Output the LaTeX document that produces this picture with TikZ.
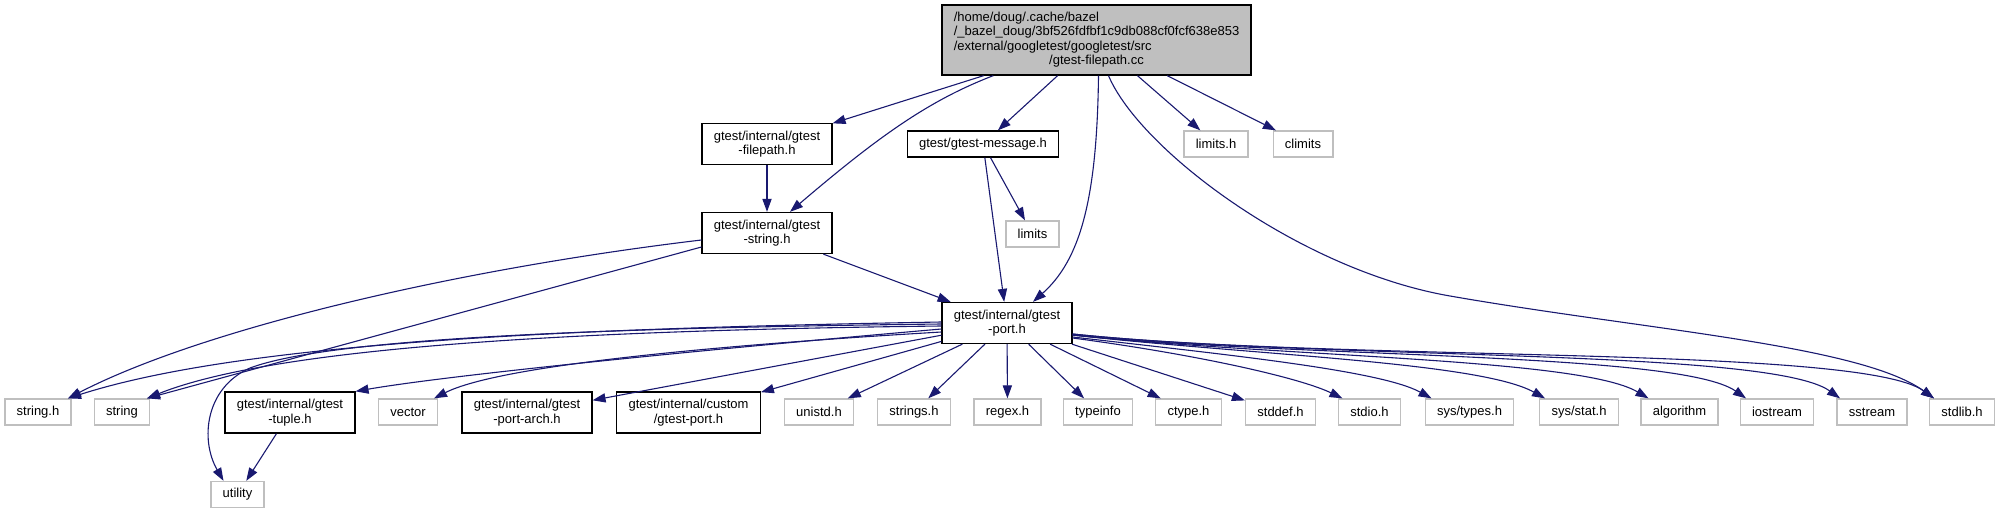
\documentclass[tikz,border=0pt]{standalone}
\usepackage{fontspec}
\setmainfont{Liberation Sans}
\usetikzlibrary{arrows.meta,calc}
\definecolor{edgeblue}{HTML}{191970}
\definecolor{boxgray}{HTML}{BFBFBF}

\begin{document}
\begin{tikzpicture}[
  x=0.5pt, y=-0.5pt,
  filebox/.style={rectangle, draw, line width=0.65pt, inner xsep=5.9pt, inner ysep=0pt,
    minimum height=13pt, align=center, font=\fontsize{6.5}{7.2}\selectfont},
  inc/.style={filebox, draw=black},
  sysinc/.style={filebox, draw=boxgray},
  tall/.style={minimum height=20.5pt},
  edge/.style={draw=edgeblue, line width=0.55pt, -{Triangle[length=6.5pt,width=4.6pt]}}
]
  \useasboundingbox (0,0) rectangle (2001,513);

  % Source file.
  \node[filebox, draw=black, fill=boxgray, minimum height=35pt] (root) at (1096.5,40)
    {\begin{tabular}{@{}l@{}}/home/doug/.cache/bazel\\
      /\_bazel\_doug/3bf526fdfbf1c9db088cf0fcf638e853\\
      /external/googletest/googletest/src\\
      \multicolumn{1}{@{}c@{}}{/gtest-filepath.cc}\end{tabular}};

  % Upper headers.
  \node[inc, tall] (fpath) at (767,144) {gtest/internal/gtest\\-filepath.h};
  \node[inc] (msg) at (983,144) {gtest/gtest-message.h};
  \node[sysinc] (limh) at (1216,144) {limits.h};
  \node[sysinc] (clim) at (1303,144) {climits};
  \node[inc, tall] (gstr) at (767,233) {gtest/internal/gtest\\-string.h};
  \node[sysinc] (lim) at (1032.5,234) {limits};
  \node[inc, tall] (port) at (1007,323) {gtest/internal/gtest\\-port.h};

  % Bottom row.
  \foreach \n/\x/\t in {strh/38/string.h, str/122/string, vec/408/vector,
      unistd/819/unistd.h, strs/914/strings.h, regex/1007.5/regex.h,
      tinfo/1098/typeinfo, ctype/1188.5/ctype.h, stddef/1280.5/stddef.h,
      stdio/1369.5/stdio.h, algo/1679.5/algorithm, iostr/1777/iostream,
      sstr/1872/sstream, stdlib/1962/stdlib.h}
    \node[sysinc] (\n) at (\x,412) {\t};
  \node[sysinc] (systypes) at (1469.5,412) {sys/types.h};
  \node[sysinc] (sysstat) at (1579,412) {sys/stat.h};
  \node[inc, tall] (tup) at (290,412.5) {gtest/internal/gtest\\-tuple.h};
  \node[inc, tall] (arch) at (527,412.5) {gtest/internal/gtest\\-port-arch.h};
  \node[inc, tall] (cport) at (688.5,412.5) {gtest/internal/custom\\/gtest-port.h};
  \node[sysinc] (util) at (237.5,494.5) {utility};

  % Straight includes.
  \foreach \a/\b in {root/fpath, root/msg, root/limh, root/clim, fpath/gstr,
      msg/lim, msg/port, gstr/port, tup/util, port/cport, port/arch,
      port/unistd, port/strs, port/regex, port/tinfo, port/ctype, port/stddef}
    \draw[edge] (\a) -- (\b);

  % Curved includes from the source file.
  \draw[edge] ($(root.south west)+(52,0)$) .. controls (930,100) and (880,135)
    .. ($(gstr.north)+(23,0)$);
  \draw[edge] ($(root.south)+(2,0)$) .. controls (1097,200) and (1080,260)
    .. ($(port.north)+(26,0)$);
  \draw[edge] ($(root.south)+(12,0)$) .. controls (1140,150) and (1300,270)
    .. (1450,296) .. controls (1645,330) and (1860,345) .. ($(stdlib.north)+(-28,0)$);

  % Curved includes to the left.
  \draw[edge] ($(gstr.west)+(0,7)$) .. controls (450,270) and (200,330)
    .. ($(strh.north)+(30,0)$);
  \draw[edge] ($(gstr.west)+(0,14)$) .. controls (515,298) and (320,351)
    .. ($(str.north)+(25,0)$);
  \draw[edge] ($(port.west)+(0,-1)$) .. controls (600,328) and (250,340)
    .. ($(strh.north)+(30,0)$);
  \draw[edge] ($(port.west)+(0,3)$) .. controls (600,330) and (280,345)
    .. ($(str.north)+(25,0)$);
  \draw[edge] ($(port.west)+(0,1)$) .. controls (600,328) and (330,338) .. (250,368)
    .. controls (205,388) and (200,440) .. ($(util.north)+(-14,0)$);
  \draw[edge] ($(port.west)+(0,6)$) .. controls (700,350) and (450,375) .. (tup.north east);
  \draw[edge] ($(port.west)+(0,9)$) .. controls (720,345) and (500,365)
    .. ($(vec.north)+(26,0)$);

  % Curved includes to the right.
  \foreach \t/\dy/\ax/\ay/\bx/\by/\dx in {stdio/15/1200/355/1300/378/-27,
      systypes/14/1220/354/1380/370/-38, sysstat/12/1250/355/1480/362/-34,
      algo/12/1280/357/1580/358/-31, iostr/12/1300/358/1680/352/-31,
      sstr/11/1320/360/1770/348/-32, stdlib/11/1340/362/1860/345/-28}
    \draw[edge] ($(port.east)+(0,\dy)$) .. controls (\ax,\ay) and (\bx,\by)
      .. ($(\t.north)+(\dx,0)$);
\end{tikzpicture}
\end{document}
